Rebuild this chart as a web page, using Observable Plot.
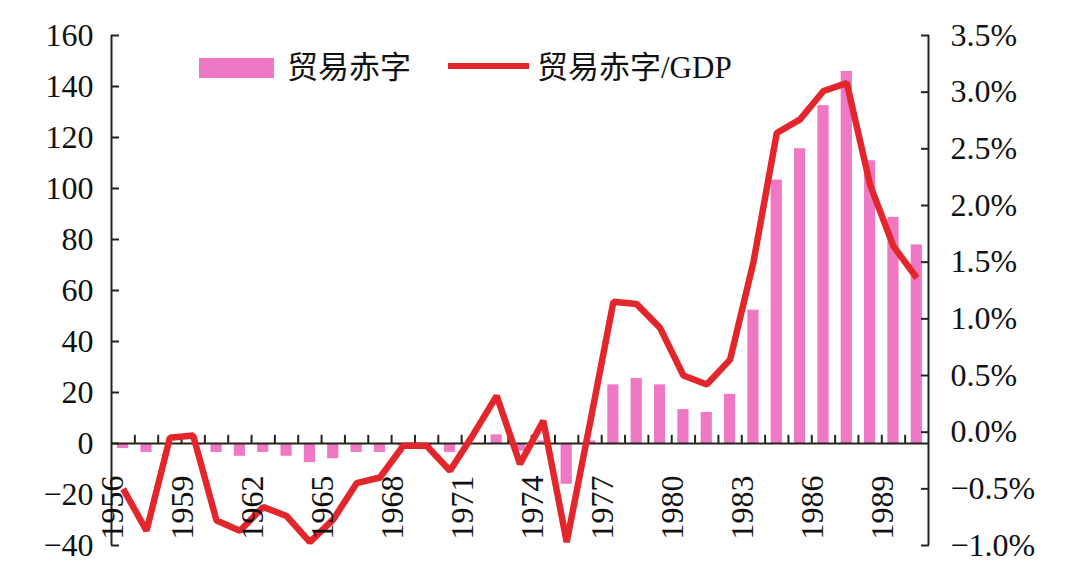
<!DOCTYPE html>
<html><head><meta charset="utf-8">
<script src="https://cdn.jsdelivr.net/npm/d3@7"></script>
<script src="https://cdn.jsdelivr.net/npm/@observablehq/plot@0.6"></script>
<style>
body{margin:0;background:#fff;}
#wrap{position:relative;width:1065px;height:581px;overflow:hidden;}
#wrap svg{position:absolute;left:0;top:0;}
.lg{position:absolute;font-family:"Liberation Serif","Noto Sans CJK SC",serif;font-size:31px;line-height:31px;color:#111;white-space:nowrap;}
.sw{position:absolute;}
</style></head><body>
<div id="wrap"></div>
<script>
const years = [1956,1957,1958,1959,1960,1961,1962,1963,1964,1965,1966,1967,1968,1969,1970,1971,1972,1973,1974,1975,1976,1977,1978,1979,1980,1981,1982,1983,1984,1985,1986,1987,1988,1989,1990];
const deficit = [-2,-3.5,0,0,-3.5,-5,-3.5,-5,-7.5,-6,-3.5,-3.5,-1,-1,-3.5,0,3.4,-3,1,-16,1,23,25.5,23,13.3,12.2,19.3,52.3,103.3,115.6,132.5,145.9,110.9,88.7,77.9];
const ratio = [-0.50,-0.87,-0.05,-0.03,-0.78,-0.87,-0.66,-0.74,-0.97,-0.77,-0.45,-0.40,-0.12,-0.12,-0.34,-0.02,0.32,-0.28,0.10,-0.97,0.08,1.15,1.13,0.92,0.50,0.42,0.64,1.50,2.64,2.76,3.01,3.08,2.18,1.64,1.36];
const leftTicks = [-40,-20,0,20,40,60,80,100,120,140,160];
const rightTicks = [-1.0,-0.5,0.0,0.5,1.0,1.5,2.0,2.5,3.0,3.5];
const yearLabels = [1956,1959,1962,1965,1968,1971,1974,1977,1980,1983,1986,1989];
const seriesNames = ["贸易赤字","贸易赤字/GDP"];
const colors = {bar:"#ee78c3", line:"#e3262c", axis:"#24241a", text:"#111"};

const leftDomain = [leftTicks[0], leftTicks[leftTicks.length-1]];
const rightDomain = [rightTicks[0], rightTicks[rightTicks.length-1]];
const toLeft = p => leftDomain[0] + (p - rightDomain[0])*(leftDomain[1]-leftDomain[0])/(rightDomain[1]-rightDomain[0]);
const toRight = v => rightDomain[0] + (v - leftDomain[0])*(rightDomain[1]-rightDomain[0])/(leftDomain[1]-leftDomain[0]);
const fmtNum = v => (v < 0 ? "\u2212" : "") + Math.abs(v);
const fmtPct = v => { const p = Math.round(toRight(v)*10)/10; return (p < 0 ? "\u2212" : "") + Math.abs(p).toFixed(1) + "%"; };

const data = years.map((year,i) => ({year, deficit: deficit[i], ratio: ratio[i]}));
const boundaries = years.slice(0,-1).map(y => y + 0.5);
const xDomain = [years[0]-0.5, years[years.length-1]+0.5];

const fs = 32;
const axisStyle = {stroke: colors.axis, strokeWidth: 2};
const chart = Plot.plot({
  width: 1065, height: 581,
  marginLeft: 111, marginRight: 137, marginTop: 35, marginBottom: 36,
  style: {fontFamily: "Liberation Serif", fontSize: fs + "px", color: colors.text, background: "#fff", overflow: "visible"},
  x: {domain: xDomain, axis: null},
  y: {domain: leftDomain, axis: null},
  marks: [
    Plot.rectY(data, {x1: d => d.year - 0.24, x2: d => d.year + 0.24, y: "deficit", fill: colors.bar}),
    Plot.ruleY([0], axisStyle),
    Plot.ruleX(boundaries, {y1: 0, y2: 3.2, ...axisStyle}),
    Plot.ruleX(xDomain, axisStyle),
    Plot.line(data, {x: "year", y: d => toLeft(d.ratio), stroke: colors.line, strokeWidth: 6.5, strokeLinejoin: "miter", strokeLinecap: "butt"}),
    Plot.axisY(leftTicks, {anchor: "left", label: null, tickSize: 8, dx: 8, fill: "none", ...axisStyle}),
    Plot.axisY(leftTicks, {anchor: "left", label: null, tickSize: 0, tickPadding: 18, fontSize: fs, fill: colors.text, tickFormat: fmtNum}),
    Plot.axisY(rightTicks.map(toLeft), {anchor: "right", label: null, tickSize: 8, dx: -8, fill: "none", ...axisStyle}),
    Plot.axisY(rightTicks.map(toLeft), {anchor: "right", label: null, tickSize: 0, tickPadding: 22, fontSize: fs, fill: colors.text, tickFormat: fmtPct}),
    Plot.text(yearLabels, {x: d => d, text: d => String(d), frameAnchor: "bottom", rotate: -90, textAnchor: "start", dy: -6, fontSize: fs, fill: colors.text})
  ]
});
const wrap = document.getElementById("wrap");
wrap.appendChild(chart);

// legend
function addDiv(cls, css, txt){ const d = document.createElement("div"); d.className = cls; Object.assign(d.style, css); if (txt) d.textContent = txt; wrap.appendChild(d); }
addDiv("sw", {left:"199px", top:"58px", width:"75px", height:"20px", background: colors.bar});
addDiv("lg", {left:"287px", top:"52px"}, seriesNames[0]);
addDiv("sw", {left:"448px", top:"63px", width:"81px", height:"6px", background: colors.line});
addDiv("lg", {left:"537px", top:"52px"}, seriesNames[1]);
</script>
</body></html>
